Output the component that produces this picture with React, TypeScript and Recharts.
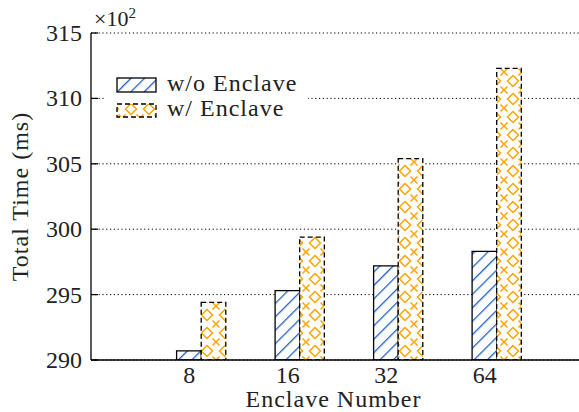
import { BarChart, Bar, XAxis, YAxis, CartesianGrid, Legend, Label } from 'recharts';

// values (x10^2 ms)
const enclaveNumbers = ['8', '16', '32', '64'];
const withoutEnclave = [290.7, 295.3, 297.2, 298.3];
const withEnclave = [294.4, 299.4, 305.4, 312.3];
const yTicks = [290, 295, 300, 305, 310, 315];

const data = enclaveNumbers.map((n, i) => ({
  n,
  without: withoutEnclave[i],
  with: withEnclave[i],
}));

const FONT = 'Liberation Serif, DejaVu Serif, serif';
const BLUE = '#1f62c4';
const ORANGE = '#ffa500';
const TICK = 7;

const txt = { fontFamily: FONT, fontSize: 24, fill: '#222' };

function Patterns({ prefix }: { prefix: string }) {
  return (
    <defs>
      <pattern
        id={`${prefix}-hatch`}
        patternUnits="userSpaceOnUse"
        width="9.5"
        height="9.5"
        patternTransform="rotate(45)"
      >
        <rect width="9.5" height="9.5" fill="#fff" />
        <line x1="0" y1="0" x2="0" y2="9.5" stroke={BLUE} strokeWidth="2.6" />
      </pattern>
      <pattern id={`${prefix}-cross`} patternUnits="userSpaceOnUse" width="18" height="18">
        <rect width="18" height="18" fill="#fff" />
        <path d="M9 3.5 L14.5 9 L9 14.5 L3.5 9 Z" fill="none" stroke={ORANGE} strokeWidth="1.5" />
        <path
          d="M-3.5 -3.5 L3.5 3.5 M3.5 -3.5 L-3.5 3.5 M14.5 -3.5 L21.5 3.5 M21.5 -3.5 L14.5 3.5 M-3.5 14.5 L3.5 21.5 M3.5 14.5 L-3.5 21.5 M14.5 14.5 L21.5 21.5 M21.5 14.5 L14.5 21.5"
          stroke={ORANGE}
          strokeWidth="1.5"
        />
      </pattern>
    </defs>
  );
}

const LeftTick = (props: any) => {
  const { x, y, payload } = props;
  return (
    <g>
      <line x1={x} y1={y} x2={x + TICK} y2={y} stroke="#000" strokeWidth={1.3} />
      <text x={x - 9} y={y + 8} textAnchor="end" style={txt}>
        {payload.value}
      </text>
    </g>
  );
};

const RightTick = (props: any) => {
  const { x, y } = props;
  return <line x1={x - TICK} y1={y} x2={x} y2={y} stroke="#000" strokeWidth={1.3} />;
};

const BottomTick = (props: any) => {
  const { x, y, payload } = props;
  return (
    <text x={x} y={y + 23} textAnchor="middle" style={txt}>
      {payload.value}
    </text>
  );
};

const TopTick = (props: any) => {
  const { x, y } = props;
  return <line x1={x} y1={y} x2={x} y2={y + TICK} stroke="#000" strokeWidth={1.3} />;
};

const LegendBox = () => (
  <div style={{ background: '#fff', width: 204, height: 62 }}>
    <svg width={204} height={62}>
      <Patterns prefix="lg" />
      <rect x={13} y={14} width={39} height={14} fill="url(#lg-hatch)" stroke="#000" strokeWidth={1.3} />
      <rect
        x={13}
        y={40}
        width={39}
        height={13}
        fill="url(#lg-cross)"
        stroke="#000"
        strokeWidth={1.3}
        strokeDasharray="5 3"
      />
      <text x={63} y={27} style={{ ...txt, letterSpacing: 1 }}>
        w/o Enclave
      </text>
      <text x={63} y={52} style={{ ...txt, letterSpacing: 1 }}>
        w/ Enclave
      </text>
    </svg>
  </div>
);

export default function App() {
  return (
    <div style={{ width: 579, height: 412, overflow: 'hidden', position: 'relative', background: '#fff' }}>
      <style>{'body{margin:0;overflow:hidden}'}</style>
      <BarChart
        width={580}
        height={412}
        data={data}
        margin={{ top: 33, right: 0, bottom: 0, left: 0 }}
        barGap={0}
        barSize={24.6}
      >
        <Patterns prefix="ch" />
        <CartesianGrid vertical={false} stroke="#000" strokeWidth={1} strokeDasharray="1.2 2.6" />
        <XAxis
          dataKey="n"
          height={52}
          padding={{ left: 49, right: 46 }}
          axisLine={{ stroke: '#000', strokeWidth: 1.3 }}
          tickLine={false}
          tickSize={0}
          tickMargin={0}
          tick={<BottomTick />}
          interval={0}
        >
          <Label
            content={(p: any) => {
              const vb = p.viewBox;
              return (
                <text
                  x={vb.x + vb.width / 2 - 2}
                  y={407}
                  textAnchor="middle"
                  style={{ ...txt, letterSpacing: 1 }}
                >
                  Enclave Number
                </text>
              );
            }}
          />
        </XAxis>
        <XAxis
          xAxisId="top"
          dataKey="n"
          orientation="top"
          height={0}
          padding={{ left: 49, right: 46 }}
          axisLine={{ stroke: '#000', strokeWidth: 1.3 }}
          tickLine={false}
          tickSize={0}
          tickMargin={0}
          tick={<TopTick />}
          interval={0}
        />
        <YAxis
          width={91}
          domain={[290, 315]}
          ticks={yTicks}
          allowDataOverflow
          axisLine={{ stroke: '#000', strokeWidth: 1.3 }}
          tickLine={false}
          tickSize={0}
          tickMargin={0}
          tick={<LeftTick />}
          interval={0}
        >
          <Label
            content={(p: any) => {
              const vb = p.viewBox;
              return (
                <g>
                  <text
                    transform={`translate(28, ${vb.y + vb.height / 2}) rotate(-90)`}
                    textAnchor="middle"
                    style={{ ...txt, letterSpacing: 1 }}
                  >
                    Total Time (ms)
                  </text>
                  <text x={vb.x + vb.width + 3} y={26} style={{ ...txt, fontSize: 22 }}>
                    ×10
                    <tspan style={{ fontSize: 15 }} dy={-8}>
                      2
                    </tspan>
                  </text>
                </g>
              );
            }}
          />
        </YAxis>
        <YAxis
          yAxisId="right"
          orientation="right"
          width={0}
          domain={[290, 315]}
          ticks={yTicks}
          allowDataOverflow
          axisLine={{ stroke: '#000', strokeWidth: 1.3 }}
          tickLine={false}
          tickSize={0}
          tickMargin={0}
          tick={<RightTick />}
          interval={0}
        />
        <Legend
          layout="vertical"
          align="center"
          verticalAlign="middle"
          wrapperStyle={{ left: 104, top: 64, width: 204, height: 62 }}
          content={() => <LegendBox />}
        />
        <Bar dataKey="spacer" isAnimationActive={false} legendType="none" />
        <Bar
          dataKey="without"
          name="w/o Enclave"
          fill="url(#ch-hatch)"
          stroke="#000"
          strokeWidth={1.3}
          isAnimationActive={false}
        />
        <Bar
          dataKey="with"
          name="w/ Enclave"
          fill="url(#ch-cross)"
          stroke="#000"
          strokeWidth={1.3}
          strokeDasharray="5 3"
          isAnimationActive={false}
        />
      </BarChart>
    </div>
  );
}
